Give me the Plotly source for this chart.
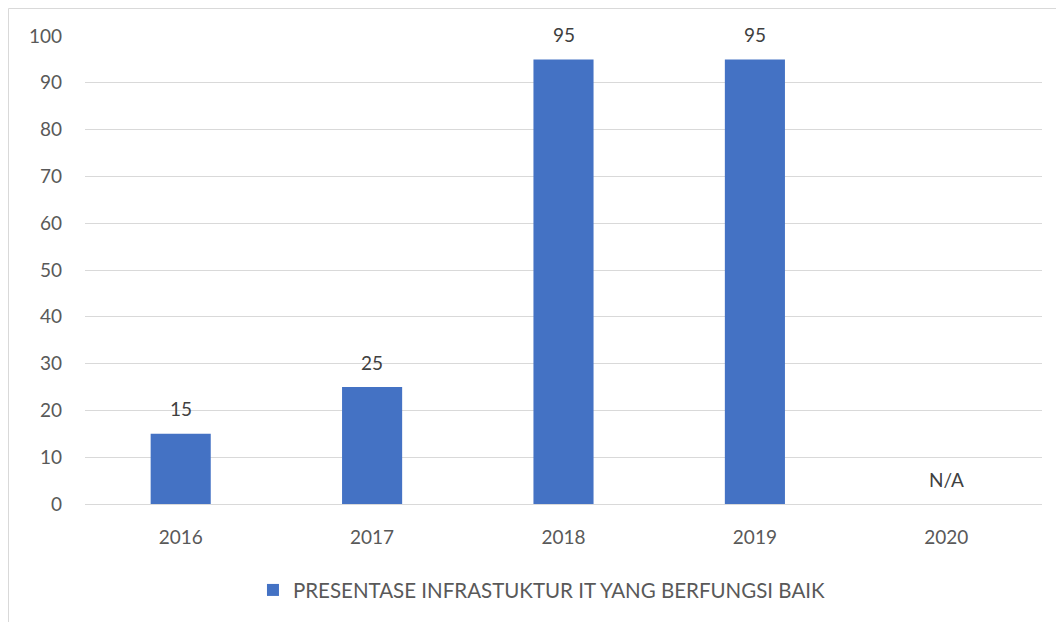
import plotly.graph_objects as go

years = ["2016", "2017", "2018", "2019", "2020"]
values = [15, 25, 95, 95, 0]
labels = ["15", "25", "95", "95", "N/A"]
series_name = "PRESENTASE INFRASTUKTUR IT YANG BERFUNGSI BAIK"
y_ticks = list(range(0, 101, 10))

# page body has an 8px margin, so the figure is sized/shifted accordingly
W, H = 1056, 614
ml, mr, mt, mb = 77, 22, 28, 118
pw, ph = W - ml - mr, H - mt - mb

FONT = "Lato, 'Open Sans', sans-serif"
TXT = "#595959"

fig = go.Figure()
fig.add_trace(go.Bar(
    x=years, y=values, name=series_name,
    marker=dict(color="#4472C4", line=dict(width=0)),
    showlegend=True,
))

for i, (v, lab) in enumerate(zip(values, labels)):
    fig.add_annotation(x=i, y=v, text=lab, showarrow=False,
                       yshift=25, font=dict(family=FONT, size=19, color="#404040"))

def px_to_paper_x(px):
    return (px - ml) / pw

def px_to_paper_y(py):
    return (H - mb - py) / ph

fig.add_shape(type="line", xref="paper", yref="paper",
              x0=px_to_paper_x(0.5), x1=px_to_paper_x(0.5),
              y0=px_to_paper_y(0.5), y1=px_to_paper_y(640),
              line=dict(color="#d9d9d9", width=1))
fig.add_shape(type="line", xref="paper", yref="paper",
              x0=px_to_paper_x(0.5), x1=px_to_paper_x(1080),
              y0=px_to_paper_y(0.5), y1=px_to_paper_y(0.5),
              line=dict(color="#d9d9d9", width=1))

fig.update_layout(
    width=W, height=H,
    margin=dict(l=ml, r=mr, t=mt, b=mb, pad=0),
    paper_bgcolor="white", plot_bgcolor="white",
    bargap=0.686,
    font=dict(family=FONT, size=19, color=TXT),
    legend=dict(orientation="h", x=0.4775, xanchor="center", y=-0.184, yanchor="middle",
                font=dict(family=FONT, size=20.5, color=TXT), itemsizing="constant"),
    xaxis=dict(type="category", range=[-0.5, len(years) - 0.5], showline=False, ticks="",
               tickfont=dict(size=19, color=TXT), ticklabelstandoff=20),
    yaxis=dict(range=[0, 100], tickvals=y_ticks, showgrid=True, gridcolor="#d9d9d9",
               gridwidth=1.3, zeroline=True, zerolinecolor="#d9d9d9", zerolinewidth=1.3,
               ticks="", tickfont=dict(size=19, color=TXT), ticklabelstandoff=22),
)

fig.write_html("out.html")
